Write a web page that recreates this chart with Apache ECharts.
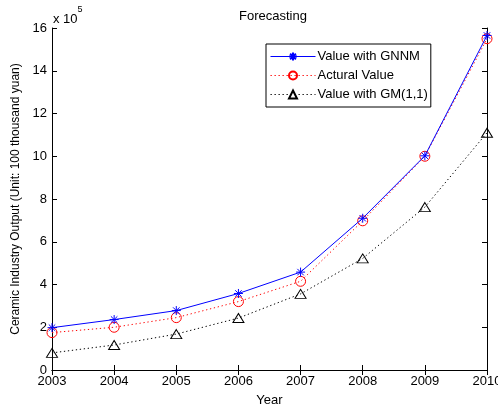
<!DOCTYPE html>
<html>
<head>
<meta charset="utf-8">
<script src="https://cdn.jsdelivr.net/npm/echarts@6/dist/echarts.min.js"></script>
<style>html,body{margin:0;padding:0;background:#fff;}#c{width:498px;height:404px;}</style>
</head>
<body>
<div id="c"></div>
<script>
const years = ['2003','2004','2005','2006','2007','2008','2009','2010'];
const gnnm = [1.98, 2.36, 2.78, 3.58, 4.58, 7.1, 10.02, 15.65];
const actual = [1.75, 2.0, 2.45, 3.2, 4.15, 6.98, 10.0, 15.5];
const gm11 = [0.8, 1.17, 1.68, 2.43, 3.56, 5.22, 7.62, 11.1];
const yTicks = [0, 2, 4, 6, 8, 10, 12, 14, 16];

const font = 'Liberation Sans, Arial, sans-serif';
const dots = [1.3, 2.7];
const chart = echarts.init(document.getElementById('c'));
const star = 'path://M0,-5L0,5M-5,0L5,0M-3.6,-3.6L3.6,3.6M-3.6,3.6L3.6,-3.6';
chart.setOption({
  animation: false,
  textStyle: { fontFamily: font },
  title: { text: 'Forecasting', left: 268, top: 5, textAlign: 'center',
    textStyle: { fontSize: 13, fontWeight: 'normal', color: '#000', fontFamily: font } },
  grid: { left: 52, right: 11, top: 28, bottom: 34, outerBoundsMode: 'none', containLabel: false },
  legend: {
    orient: 'vertical', left: 266, top: 44,
    backgroundColor: '#fff', borderColor: '#000', borderWidth: 1,
    padding: [6, 3, 6, 4], itemGap: 6, itemWidth: 45, itemHeight: 10,
    textStyle: { fontSize: 13, color: '#000', fontFamily: font, padding: [0, 0, 0, -3] },
    data: [
      { name: 'Value with GNNM', lineStyle: { width: 1, type: 'solid', color: '#0000ff' } },
      { name: 'Actural Value', lineStyle: { width: 1, type: dots, color: '#ff0000' } },
      { name: 'Value with GM(1,1)', lineStyle: { width: 1, type: dots, color: '#000000' } }
    ]
  },
  graphic: [{
    type: 'text', left: 53, top: 5,
    style: { text: '{a|x 10}{b|5}', rich: {
      a: { fontSize: 13, fontFamily: font, fill: '#000', padding: [8, 0, 0, 0] },
      b: { fontSize: 9, fontFamily: font, fill: '#000', verticalAlign: 'top' } } }
  }],
  xAxis: [{
    type: 'category', data: years, boundaryGap: false,
    name: 'Year', nameLocation: 'middle', nameGap: 24,
    nameTextStyle: { fontSize: 13, color: '#000', fontFamily: font },
    axisLine: { lineStyle: { color: '#000', width: 1 } },
    axisTick: { inside: true, length: 5, alignWithLabel: true, lineStyle: { color: '#000' } },
    axisLabel: { fontSize: 13, color: '#000', margin: 5, fontFamily: font },
    splitLine: { show: false }
  }, {
    type: 'category', data: years, boundaryGap: false, position: 'top',
    axisLine: { lineStyle: { color: '#000', width: 1 } },
    axisTick: { inside: true, length: 5, lineStyle: { color: '#000' } },
    axisLabel: { show: false }, splitLine: { show: false }
  }],
  yAxis: [{
    type: 'value', min: yTicks[0], max: yTicks[yTicks.length - 1], interval: 2,
    name: 'Ceramic Industry Output (Unit: 100 thousand yuan)', nameLocation: 'middle', nameGap: 20,
    nameTextStyle: { fontSize: 12, color: '#000', fontFamily: font },
    axisLine: { show: true, lineStyle: { color: '#000', width: 1 } },
    axisTick: { show: true, inside: true, length: 5, lineStyle: { color: '#000' } },
    axisLabel: { fontSize: 13, color: '#000', margin: 5, fontFamily: font },
    splitLine: { show: false }
  }, {
    type: 'value', min: yTicks[0], max: yTicks[yTicks.length - 1], interval: 2, position: 'right',
    axisLine: { show: true, lineStyle: { color: '#000', width: 1 } },
    axisTick: { show: true, inside: true, length: 5, lineStyle: { color: '#000' } },
    axisLabel: { show: false }, splitLine: { show: false }
  }],
  series: [{
    name: 'Value with GNNM', type: 'line', data: gnnm,
    symbol: star, symbolSize: 9, showAllSymbol: true,
    lineStyle: { color: '#0000ff', width: 1, type: 'solid' },
    itemStyle: { color: '#0000ff', borderColor: '#0000ff', borderWidth: 1 },
    z: 4
  }, {
    name: 'Actural Value', type: 'line', data: actual,
    symbol: 'circle', symbolSize: 10, showAllSymbol: true,
    lineStyle: { color: '#ff0000', width: 1, type: dots },
    itemStyle: { color: 'rgba(255,255,255,0)', borderColor: '#ff0000', borderWidth: 1 },
    z: 3
  }, {
    name: 'Value with GM(1,1)', type: 'line', data: gm11,
    symbol: 'triangle', symbolSize: [11, 9], showAllSymbol: true,
    lineStyle: { color: '#000000', width: 1, type: dots },
    itemStyle: { color: 'rgba(255,255,255,0)', borderColor: '#000000', borderWidth: 1 },
    z: 2
  }]
});
</script>
</body>
</html>
